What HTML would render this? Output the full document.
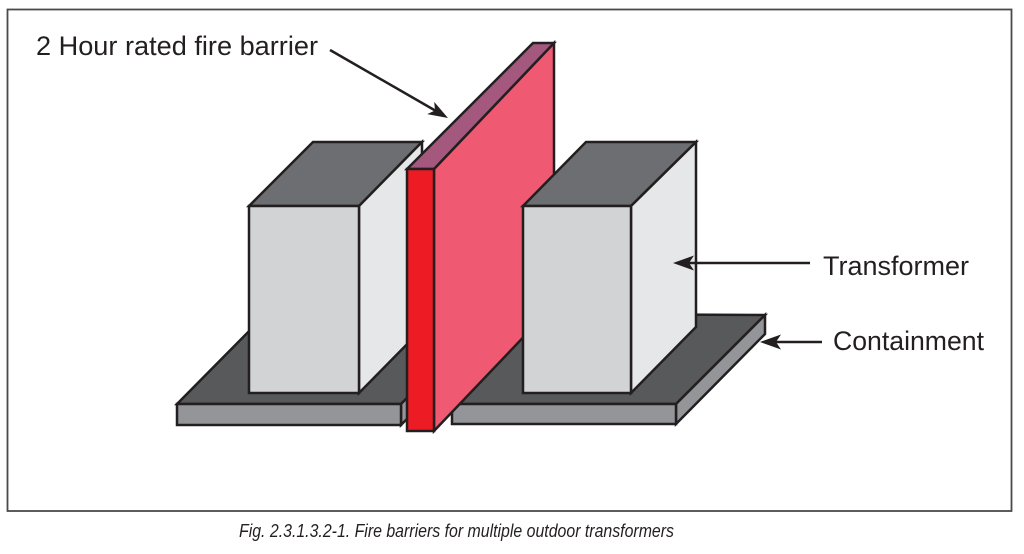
<!DOCTYPE html>
<html><head><meta charset="utf-8"><style>
html,body{margin:0;padding:0;background:#fff;}
svg{display:block;}
</style></head><body>
<svg width="1024" height="554" viewBox="0 0 1024 554" xmlns="http://www.w3.org/2000/svg">
<rect x="0" y="0" width="1024" height="554" fill="#fff"/>
<rect x="7.5" y="9.5" width="1004" height="501.5" fill="#fff" stroke="#4a4a4a" stroke-width="1.8"/>

<g stroke="#231f20" stroke-width="2.5" stroke-linejoin="miter">
<!-- left base -->
<polygon points="177,404 266,314 490,314 401,404" fill="#58595b"/>
<polygon points="401,404 490,314 490,335 401,425" fill="#939598"/>
<polygon points="177,404 401,404 401,425 177,425" fill="#939598"/>
<!-- left box -->
<polygon points="249,206 313,142 422,142 359,206" fill="#6d6e71"/>
<polygon points="359,206 422,142 422,329 359,393" fill="#e6e7e8"/>
<polygon points="249,206 359,206 359,393 249,393" fill="#d1d3d4"/>
<!-- right base -->
<polygon points="452,404 541,314 765,315 676,404" fill="#58595b"/>
<polygon points="676,404 765,315 765,334 676,424" fill="#939598"/>
<polygon points="452,404 676,404 676,424 452,424" fill="#939598"/>
<!-- barrier -->
<polygon points="434,169 554,43 554,305 434,431" fill="#ef5a72"/>
<polygon points="407,169 533,43 554,43 434,169" fill="#a5587e"/>
<polygon points="407,169 434,169 434,431 407,431" fill="#ed1c24"/>
<!-- right box -->
<polygon points="523,206 586,142 696,142 631,206" fill="#6d6e71"/>
<polygon points="631,206 696,142 696,327 631,393" fill="#e6e7e8"/>
<polygon points="523,206 631,206 631,393 523,393" fill="#d1d3d4"/>
</g>

<!-- arrows -->
<g stroke="#231f20" stroke-width="2.5" fill="none">
<line x1="330" y1="50" x2="436" y2="111"/>
<line x1="686" y1="263" x2="810" y2="263"/>
<line x1="773" y1="342" x2="822" y2="342"/>
</g>
<g fill="#231f20">
<polygon points="448,118 427.2,114.1 435,110.5 434.2,101.9"/>
<polygon points="673,263 694,255.5 689,263 694,270.5"/>
<polygon points="760,342 781,334.5 776,342 781,349.5"/>
</g>

<g font-family="'Liberation Sans', Arial, sans-serif" fill="#231f20" font-size="27">
<text x="36" y="55" textLength="282" lengthAdjust="spacingAndGlyphs">2 Hour rated fire barrier</text>
<text x="823" y="275" textLength="146" lengthAdjust="spacingAndGlyphs">Transformer</text>
<text x="833" y="350" textLength="151" lengthAdjust="spacingAndGlyphs">Containment</text>
</g>
<text x="239" y="537" font-family="'Liberation Sans', Arial, sans-serif" font-style="italic" font-size="18" fill="#231f20" textLength="435" lengthAdjust="spacingAndGlyphs">Fig. 2.3.1.3.2-1. Fire barriers for multiple outdoor transformers</text>
</svg>
</body></html>
